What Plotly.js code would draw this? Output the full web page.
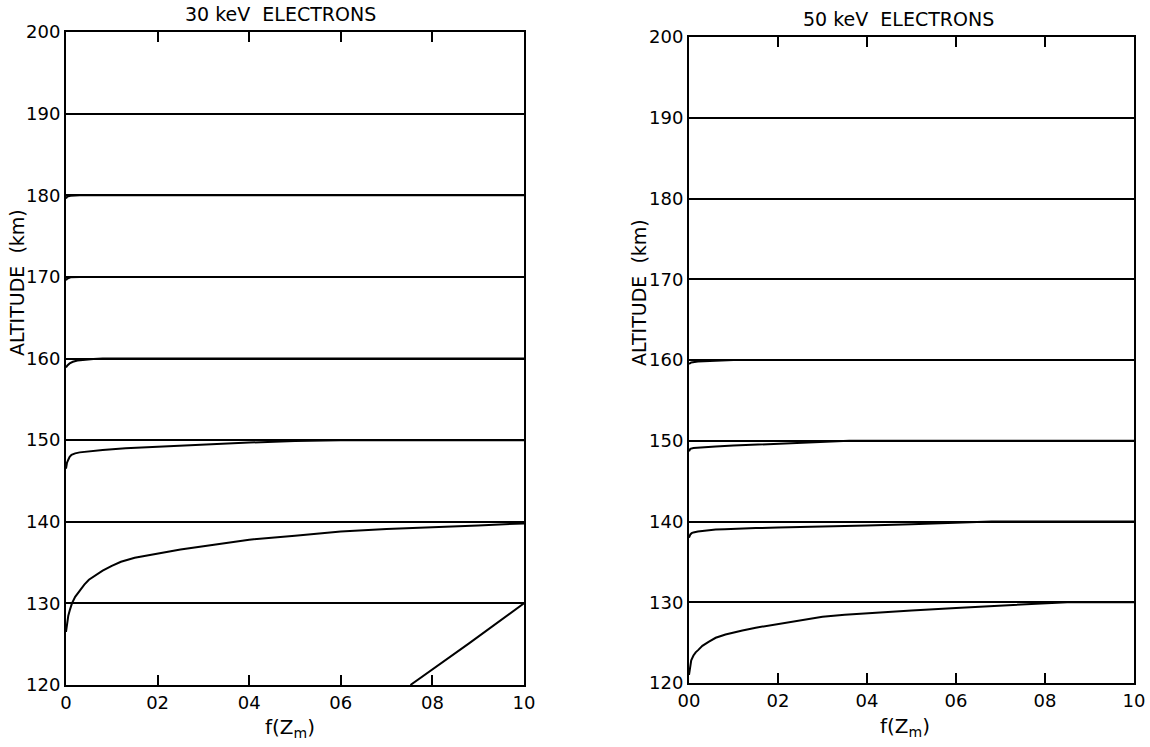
<!DOCTYPE html>
<html><head><meta charset="utf-8">
<script src="https://cdn.plot.ly/plotly-3.0.1.min.js"></script>
<style>html,body{margin:0;padding:0;background:#fff}#chart{width:1150px;height:747px}</style>
</head><body><div id="chart"></div><script>
// ---- text ----
const panelTitles = ["30 keV  ELECTRONS", "50 keV  ELECTRONS"];
const yTitle = "ALTITUDE  (km)";
const xTitle = "f(Z<sub>m</sub>)";
const yTickVals = [120, 130, 140, 150, 160, 170, 180, 190, 200];
const yTickText = ["120", "130", "140", "150", "160", "170", "180", "190", "200"];
const xTickVals = [0, 0.2, 0.4, 0.6, 0.8, 1.0];
const xTickTextLeft = ["0", "02", "04", "06", "08", "10"];
const xTickTextRight = ["00", "02", "04", "06", "08", "10"];

// ---- 30 keV electrons: f(Zm) vs altitude (km) ----
const f30_180 = [0, 0.003, 0.01, 0.03, 1.0];
const z30_180 = [179.6, 179.85, 179.95, 180, 180];
const f30_170 = [0, 0.003, 0.01, 0.03, 1.0];
const z30_170 = [169.6, 169.8, 169.95, 170, 170];
const f30_160 = [0, 0.003, 0.008, 0.015, 0.025, 0.04, 0.06, 0.08, 1.0];
const z30_160 = [158.9, 159.15, 159.4, 159.6, 159.75, 159.87, 159.95, 160, 160];
const f30_150 = [0, 0.002, 0.005, 0.008, 0.012, 0.02, 0.03, 0.05, 0.08, 0.13, 0.2, 0.3, 0.4, 0.5, 0.6, 1.0];
const z30_150 = [146.5, 147.2, 147.6, 147.95, 148.2, 148.38, 148.5, 148.65, 148.8, 149.0, 149.2, 149.5, 149.7, 149.88, 150, 150];
const f30_140 = [0, 0.002, 0.005, 0.009, 0.013, 0.02, 0.03, 0.04, 0.05, 0.065, 0.08, 0.1, 0.12, 0.15, 0.2, 0.25, 0.3, 0.4, 0.5, 0.6, 0.7, 0.8, 0.9, 1.0];
const z30_140 = [126.5, 127.6, 128.5, 129.3, 130, 130.8, 131.6, 132.3, 132.9, 133.5, 134.0, 134.6, 135.1, 135.6, 136.1, 136.6, 137.0, 137.8, 138.3, 138.8, 139.1, 139.3, 139.55, 139.8];
const f30_130 = [0.752, 0.88, 1.0];
const z30_130 = [120, 125.1, 130];

// ---- 50 keV electrons ----
const f50_160 = [0, 0.005, 0.02, 0.05, 0.1, 1.0];
const z50_160 = [159.5, 159.7, 159.8, 159.9, 160, 160];
const f50_150 = [0, 0.001, 0.003, 0.01, 0.03, 0.06, 0.1, 0.15, 0.2, 0.25, 0.3, 0.36, 1.0];
const z50_150 = [148.7, 148.9, 149.0, 149.1, 149.2, 149.3, 149.4, 149.52, 149.65, 149.78, 149.9, 150, 150];
const f50_140 = [0, 0.001, 0.003, 0.006, 0.01, 0.02, 0.03, 0.045, 0.06, 0.08, 0.1, 0.15, 0.2, 0.3, 0.4, 0.5, 0.55, 0.62, 0.68, 1.0];
const z50_140 = [138.0, 138.2, 138.4, 138.55, 138.65, 138.77, 138.85, 138.93, 139.0, 139.05, 139.1, 139.18, 139.25, 139.35, 139.5, 139.65, 139.75, 139.88, 140, 140];
const f50_130 = [0, 0.002, 0.005, 0.01, 0.015, 0.021, 0.03, 0.044, 0.06, 0.082, 0.1, 0.12, 0.15, 0.2, 0.25, 0.3, 0.35, 0.4, 0.5, 0.6, 0.7, 0.8, 0.85, 1.0];
const z50_130 = [121.0, 122.0, 122.8, 123.4, 123.8, 124.1, 124.6, 125.1, 125.6, 126.0, 126.2, 126.5, 126.85, 127.3, 127.8, 128.2, 128.45, 128.65, 128.98, 129.3, 129.6, 129.9, 130, 130];

const FONT = "DejaVu Sans, Liberation Sans, sans-serif";
function tr(x, y, xa, ya) {
  return {x: x, y: y, xaxis: xa, yaxis: ya, type: "scatter", mode: "lines",
          line: {color: "#000", width: 2}, hoverinfo: "skip", showlegend: false};
}
const data = [
  tr(f30_180, z30_180, "x", "y"), tr(f30_170, z30_170, "x", "y"), tr(f30_160, z30_160, "x", "y"),
  tr(f30_150, z30_150, "x", "y"), tr(f30_140, z30_140, "x", "y"), tr(f30_130, z30_130, "x", "y"),
  tr(f50_160, z50_160, "x2", "y2"), tr(f50_150, z50_150, "x2", "y2"),
  tr(f50_140, z50_140, "x2", "y2"), tr(f50_130, z50_130, "x2", "y2")
];

function xax(domain, anchor, ticktext) {
  return {domain: domain, anchor: anchor, range: [0, 1], showline: true, linecolor: "#000", linewidth: 2,
          mirror: "ticks", ticks: "inside", ticklen: 10, tickwidth: 2, tickcolor: "#000",
          tickvals: xTickVals, ticktext: ticktext, showgrid: false, zeroline: false,
          tickfont: {family: FONT, size: 18, color: "#000"}};
}
function yax(domain, anchor) {
  return {domain: domain, anchor: anchor, range: [120, 200], showline: true, linecolor: "#000", linewidth: 2,
          mirror: true, ticks: "", showgrid: true, gridcolor: "#000", gridwidth: 2, zeroline: false,
          tickvals: yTickVals, ticktext: yTickText,
          tickfont: {family: FONT, size: 18, color: "#000"}};
}
const W = 1150, H = 747;
function ann(text, px, py, size, angle) {
  return {text: text, x: px / W, y: 1 - py / H, xref: "paper", yref: "paper", showarrow: false,
          xanchor: "center", yanchor: "middle", textangle: angle || 0,
          font: {family: FONT, size: size, color: "#000"}};
}
const layout = {
  width: W, height: H, margin: {l: 0, r: 0, t: 0, b: 0},
  paper_bgcolor: "#fff", plot_bgcolor: "#fff", showlegend: false,
  xaxis: xax([66 / W, 524 / W], "y", xTickTextLeft),
  yaxis: yax([1 - 685 / H, 1 - 32 / H], "x"),
  xaxis2: xax([689 / W, 1134 / W], "y2", xTickTextRight),
  yaxis2: yax([1 - 683 / H, 1 - 37 / H], "x2"),
  annotations: [
    ann(panelTitles[0], 280, 14, 19),
    ann(panelTitles[1], 898, 19, 19),
    ann(xTitle, 290, 728, 20),
    ann(xTitle, 905, 727, 20),
    ann(yTitle, 17, 283, 19, -90),
    ann(yTitle, 639, 293, 19, -90)
  ]
};
Plotly.newPlot("chart", data, layout, {displayModeBar: false, staticPlot: true});
</script></body></html>
